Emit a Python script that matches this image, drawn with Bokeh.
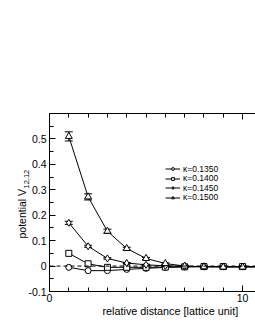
from bokeh.plotting import figure
from bokeh.models import (ColumnDataSource, Whisker, TeeHead, LinearAxis, FixedTicker,
                          Legend, LegendItem, Title, Span)
from bokeh.embed import file_html
from bokeh.resources import INLINE

dist = [1, 2, 3, 4, 5, 6, 7, 8, 9, 10, 11]
v_1350 = [-0.005, -0.018, -0.018, -0.013, -0.009, -0.005, -0.003, -0.002, -0.002, -0.002, -0.002]
v_1400 = [0.05, 0.009, -0.005, -0.005, -0.005, -0.004, -0.003, -0.002, -0.002, -0.002, -0.002]
v_1450 = [0.17, 0.078, 0.030, 0.012, 0.005, 0.001, -0.001, -0.002, -0.002, -0.002, -0.002]
v_1500 = [0.51, 0.272, 0.137, 0.069, 0.030, 0.010, 0.000, -0.003, -0.004, -0.004, -0.004]
e_1500 = [0.018, 0.012, 0.008, 0.005, 0.004, 0.003, 0.003, 0.003, 0.003, 0.003, 0.003]
e_1450 = [0.006, 0.004, 0.003, 0.002, 0.002, 0.002, 0.002, 0.002, 0.002, 0.002, 0.002]
labels = ["κ=0.1350", "κ=0.1400", "κ=0.1450", "κ=0.1500"]
y_ticks = [-0.1, 0, 0.1, 0.2, 0.3, 0.4, 0.5]
x_ticks = [0, 10]

FONT = "Liberation Sans"

p = figure(width=255, height=330, x_range=(0, 10.67), y_range=(-0.1, 0.6),
           output_backend="svg", toolbar_location=None,
           min_border_left=49, min_border_right=0, min_border_top=113, min_border_bottom=39)
p.outline_line_color = None
p.grid.visible = False
p.background_fill_color = "white"

# axes
p.xaxis.ticker = FixedTicker(ticks=x_ticks, minor_ticks=list(range(0, 12)))
p.yaxis.ticker = FixedTicker(ticks=y_ticks, minor_ticks=[-0.1 + 0.05 * i for i in range(15)])
p.yaxis.major_label_overrides = {0: "0", -0.1: "-0.1", 0.1: "0.1", 0.2: "0.2", 0.3: "0.3", 0.4: "0.4", 0.5: "0.5"}
p.xaxis.major_label_overrides = {0: "0", 10: "10"}
for ax in (p.xaxis[0], p.yaxis[0]):
    ax.major_tick_in = 6
    ax.major_tick_out = 0
    ax.minor_tick_in = 4
    ax.minor_tick_out = 0
    ax.axis_line_color = "black"
    ax.major_tick_line_color = "black"
    ax.minor_tick_line_color = "black"
    ax.major_label_text_font = FONT
    ax.major_label_text_font_size = "10.5px"
    ax.major_label_text_color = "black"
    ax.major_label_standoff = 2
p.yaxis.major_label_standoff = 3

top = LinearAxis(ticker=FixedTicker(ticks=x_ticks, minor_ticks=list(range(0, 12))),
                 major_label_text_alpha=0, major_label_text_font_size="1px",
                 major_tick_in=6, major_tick_out=0, minor_tick_in=4, minor_tick_out=0)
p.add_layout(top, "above")

# zero dashed line
p.add_layout(Span(location=0, dimension="width", line_color="black", line_dash="4 3", line_width=1))

# error bars
src15 = ColumnDataSource(dict(x=dist, lo=[v - e for v, e in zip(v_1500, e_1500)],
                              hi=[v + e for v, e in zip(v_1500, e_1500)]))
src145 = ColumnDataSource(dict(x=dist, lo=[v - e for v, e in zip(v_1450, e_1450)],
                               hi=[v + e for v, e in zip(v_1450, e_1450)]))
for s in (src15, src145):
    w = Whisker(source=s, base="x", lower="lo", upper="hi", line_color="black", line_width=1,
                upper_head=TeeHead(size=8, line_color="black"),
                lower_head=TeeHead(size=8, line_color="black"))
    p.add_layout(w)

series = [(v_1350, "circle", 6), (v_1400, "square", 6), (v_1450, "diamond", 7), (v_1500, "triangle", 7)]
legend_y = [117.5, 108, 98.5, 89]
for (vals, mk, sz), lab, ly in zip(series, labels, legend_y):
    ln = p.line(dist, vals, line_color="black", line_width=1)
    sc = p.scatter(dist, vals, marker=mk, size=sz, fill_color="white", line_color="black", line_width=1)
    lg = Legend(items=[LegendItem(label=lab, renderers=[ln, sc])], location=(116, ly),
                padding=0, margin=0, spacing=0, border_line_color=None, background_fill_alpha=0,
                glyph_width=15, glyph_height=7, label_height=7, label_standoff=3,
                label_text_font=FONT, label_text_font_size="8.5px", label_text_color="black")
    p.add_layout(lg, "center")

# axis titles as side-panel titles
xt = Title(text="relative distance [lattice unit]", align="left", offset=53, standoff=-3,
           text_font=FONT, text_font_size="10.8px", text_font_style="normal", text_color="black")
p.add_layout(xt, "below")
sub = Title(text="12,12", align="left", offset=103, standoff=-6,
            text_font=FONT, text_font_size="7.5px", text_font_style="normal", text_color="black")
p.add_layout(sub, "left")
yt = Title(text="potential V", align="left", offset=53, standoff=-7,
           text_font=FONT, text_font_size="10.5px", text_font_style="normal", text_color="black")
p.add_layout(yt, "left")

open("out.html", "w").write(file_html(p, INLINE))
